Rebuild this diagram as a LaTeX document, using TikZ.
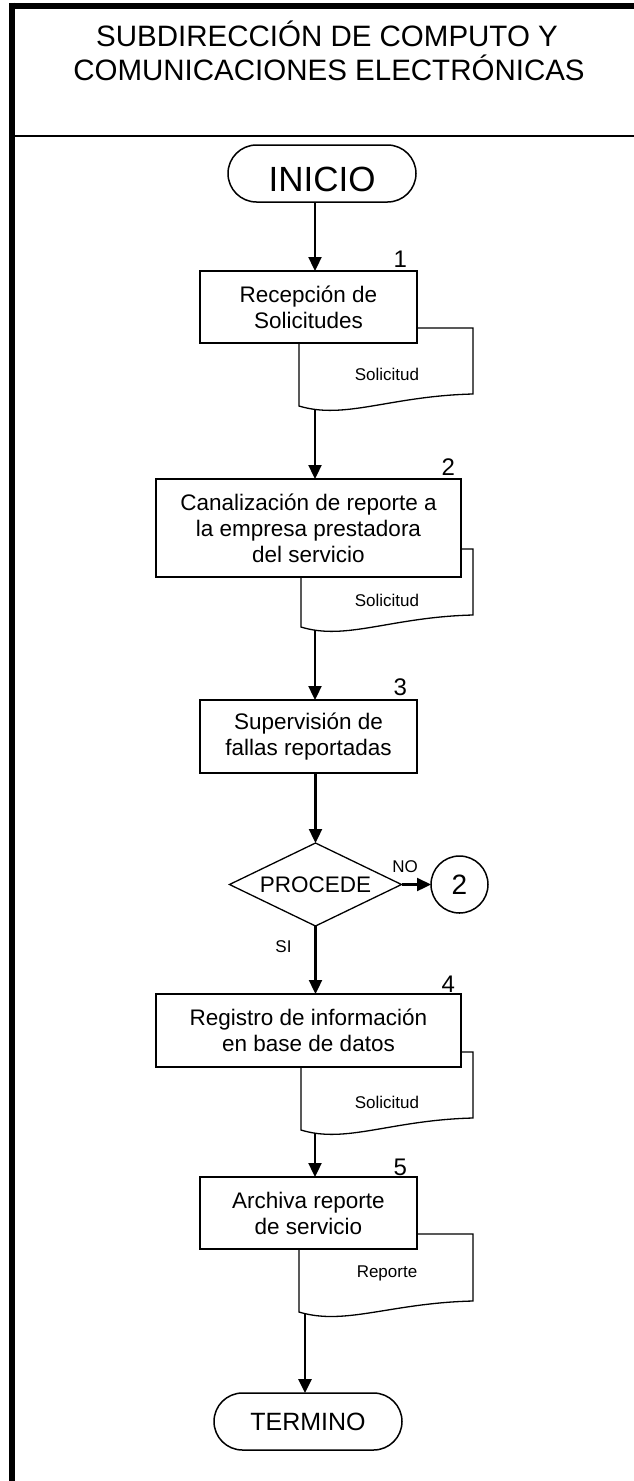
\documentclass[tikz,border=0pt]{standalone}
\usepackage{fontspec}
\setmainfont{Liberation Sans}
\usetikzlibrary{arrows.meta,shapes.geometric}
\begin{document}
\begin{tikzpicture}[x=1pt,y=-1pt,
  every node/.style={inner sep=0pt, outer sep=0pt},
  frameline/.style={line width=6pt},
  procbox/.style={draw, fill=white, line width=1.3pt, align=center,
    font=\fontsize{22.5}{26}\selectfont},
  terminal/.style={draw, fill=white, line width=1.5pt, rounded corners=28.5pt,
    minimum width=188pt, minimum height=57pt},
  docline/.style={draw, fill=white, line width=1.3pt},
  doctext/.style={font=\fontsize{17}{20}\selectfont, anchor=base},
  numlabel/.style={font=\fontsize{24}{28}\selectfont, anchor=base east},
  smalllabel/.style={font=\fontsize{17}{20}\selectfont, anchor=base},
  flow/.style={line width=2.3pt, -{Triangle[length=14pt,width=13pt]}},
  titletext/.style={font=\fontsize{29.5}{34}\selectfont, anchor=base}
]
\useasboundingbox (0,0) rectangle (634,1481);

% frame
\draw[frameline] (12,2.7) -- (12,1481);
\draw[frameline] (9,5.7) -- (634,5.7);
\draw[line width=2.4pt] (15,136) -- (634,136);

% title
\node[titletext] (title1) at (327,46) {SUBDIRECCIÓN DE COMPUTO Y};
\node[titletext] (title2) at (329,80) {COMUNICACIONES ELECTRÓNICAS};

% start
\node[terminal, font=\fontsize{35}{40}\selectfont, text height=35pt, text depth=0pt] (inicio) at (322,173.5) {INICIO};

% documents (drawn before boxes)
\begin{scope}[shift={(299,328)}]
  \draw[docline] (0,0) -- (174,0) -- (174,66) .. controls (91,68) and (46,92) .. (0,78) -- cycle;
\end{scope}
\node[doctext] (doc1) at (387,380) {Solicitud};
\coordinate (doc1b) at (315,409);

\begin{scope}[shift={(301,549)}]
  \draw[docline] (0,0) -- (172,0) -- (172,66) .. controls (90,68) and (45,92) .. (0,78) -- cycle;
\end{scope}
\node[doctext] (doc2) at (387,606) {Solicitud};
\coordinate (doc2b) at (315,630);

\begin{scope}[shift={(301,1052)}]
  \draw[docline] (0,0) -- (172,0) -- (172,66) .. controls (90,68) and (45,92) .. (0,78) -- cycle;
\end{scope}
\node[doctext] (doc4) at (387,1108) {Solicitud};
\coordinate (doc4b) at (315,1133);

\begin{scope}[shift={(299,1234)}]
  \draw[docline] (0,0) -- (174,0) -- (174,67) .. controls (91,69) and (46,92) .. (0,78) -- cycle;
\end{scope}
\node[doctext] (doc5) at (387,1277) {Reporte};
\coordinate (doc5b) at (305,1313);

% process boxes
\node[procbox, minimum width=217pt, minimum height=72pt] (b1) at (308.5,307) {Recepción de\\Solicitudes};
\node[procbox, minimum width=305pt, minimum height=98pt] (b2) at (308.5,528) {Canalización de reporte a\\la empresa prestadora\\del servicio};
\node[procbox, minimum width=217pt, minimum height=73pt] (b3) at (308.5,736.5) {Supervisión de\\fallas reportadas};
\node[procbox, minimum width=305pt, minimum height=73pt] (b4) at (308.5,1030.5) {Registro de información\\en base de datos};
\node[procbox, minimum width=217pt, minimum height=72pt] (b5) at (308.5,1213) {Archiva reporte\\de servicio};

% step numbers
\node[numlabel] (n1) at ([xshift=-10pt,yshift=4pt]b1.north east) {1};
\node[numlabel] (n2) at ([xshift=-6pt,yshift=4pt]b2.north east) {2};
\node[numlabel] (n3) at ([xshift=-10pt,yshift=5pt]b3.north east) {3};
\node[numlabel] (n4) at ([xshift=-6pt,yshift=2pt]b4.north east) {4};
\node[numlabel] (n5) at ([xshift=-10pt,yshift=2pt]b5.north east) {5};

% decision
\node[draw, fill=white, line width=1.3pt, diamond, aspect=2.07, minimum width=172pt, minimum height=83pt,
  font=\fontsize{22.5}{26}\selectfont] (dec) at (315.5,884.5) {PROCEDE};
\node[draw, circle, line width=1.5pt, minimum size=57pt, font=\fontsize{28}{32}\selectfont] (c2) at (459.5,884.5) {2};
\node[smalllabel] (nolab) at (405,872) {NO};
\node[smalllabel] (silab) at (283.5,952) {SI};

% end
\node[terminal, font=\fontsize{25}{30}\selectfont] (fin) at (308,1421.5) {TERMINO};

% connectors
\draw[flow] (inicio.south -| doc1b) -- (doc1b |- b1.north);
\draw[flow] (doc1b) -- (doc1b |- b2.north);
\draw[flow] (doc2b) -- (doc2b |- b3.north);
\draw[flow] (b3.south -| dec.north) -- (dec.north);
\draw[flow] (dec.south) -- (dec.south |- b4.north);
\draw[flow] (dec.east) -- (c2.west);
\draw[flow] (doc4b) -- (doc4b |- b5.north);
\draw[flow, line width=2.6pt] (doc5b) -- (doc5b |- fin.north);
\end{tikzpicture}
\end{document}
